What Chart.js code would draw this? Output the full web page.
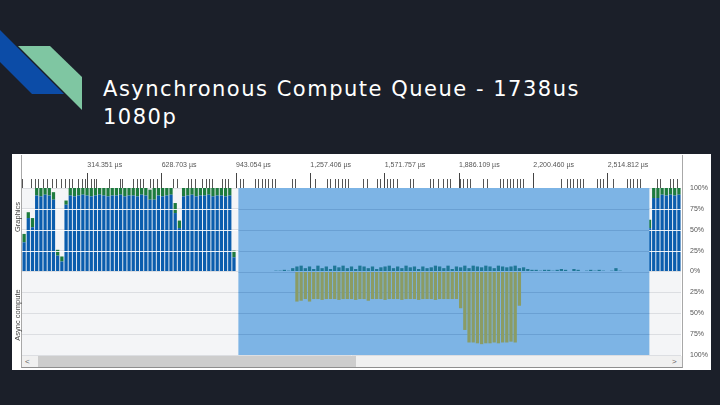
<!DOCTYPE html>
<html>
<head>
<meta charset="utf-8">
<script src="https://cdn.jsdelivr.net/npm/chart.js@4.4.1/dist/chart.umd.min.js"></script>
<style>
html, body { margin: 0; padding: 0; }
body { width: 720px; height: 405px; background: #1b1f29; position: relative; overflow: hidden; font-family: "Liberation Sans", Arial, sans-serif; }
#deco { position: absolute; left: 0; top: 0; }
#title { position: absolute; left: 103px; top: 75px; color: #fff; font-family: "DejaVu Sans", sans-serif; font-weight: normal; font-size: 21px; line-height: 28px; white-space: nowrap; }
#panel { position: absolute; left: 12px; top: 154px; width: 699px; height: 216px; background: #fff; }
#frame { position: absolute; left: 21px; top: 155px; width: 660px; height: 212px; border-left: 1px solid #a8a8a8; border-right: 1px solid #a8a8a8; border-bottom: 1px solid #8e8e8e; }
#chartBox { position: absolute; left: 12px; top: 150px; width: 700px; height: 222px; }
#scroll { position: absolute; left: 22px; top: 356px; width: 660px; height: 11px; background: #f0f0f0; }
#thumb { position: absolute; left: 16px; top: 0; width: 318px; height: 11px; background: #cdcdcd; }
.arrow { position: absolute; top: 0; font-size: 8px; line-height: 11px; color: #666; }
.side { position: absolute; font-size: 7.5px; color: #444; white-space: nowrap; transform: translate(-50%, -50%) rotate(-90deg); }
</style>
</head>
<body>
<svg id="deco" width="100" height="120">
  <polygon points="0,30 64,94 32,94 0,62" fill="#0c4ca7"/>
  <polygon points="18,46 50,46 82,77 82,110" fill="#7fc6a2"/>
</svg>
<div id="title"><span id="titleLine1">Asynchronous Compute Queue - 1738us</span><br>1080p</div>
<div id="panel"></div>
<div id="frame"></div>
<div id="chartBox"><canvas id="queueChart"></canvas></div>
<div id="scroll"><div id="thumb"></div><span class="arrow" style="left:3px">&lt;</span><span class="arrow" style="left:650px">&gt;</span></div>
<div class="side" style="left:17px; top:217px">Graphics</div>
<div class="side" style="left:17px; top:315px">Async compute</div>
<script>
// time bins (µs)
const binStart = 38;
const binWidth = 17.75;
const binCount = 157;
const selection = [953, 2691];

const tickValues = [314.351, 628.703, 943.054, 1257.406, 1571.757, 1886.109, 2200.460, 2514.812];
const tickLabels = ['314.351 µs', '628.703 µs', '943.054 µs', '1,257.406 µs', '1,571.757 µs', '1,886.109 µs', '2,200.460 µs', '2,514.812 µs'];

// event markers on the ruler
const markers = [42, 80, 93, 106, 131, 144, 169, 186, 207, 220, 237, 250, 279, 292, 305, 330, 343, 355, 410, 453, 465,
	508, 525, 537, 550, 580, 592, 609, 677, 694, 740, 753, 770, 800, 817, 829, 842, 884, 897, 910, 961, 973,
	1024, 1037, 1054, 1066, 1079, 1096, 1109, 1180, 1193, 1278, 1329, 1341, 1362, 1375, 1392, 1405, 1417,
	1481, 1498, 1540, 1553, 1582, 1595, 1608, 1625, 1680, 1692, 1764, 1777, 1798, 1819, 1836, 1849,
	1891, 1904, 1921, 1934, 1989, 2005, 2060, 2073, 2090, 2103, 2116, 2132, 2145, 2158,
	2319, 2344, 2357, 2369, 2386, 2399, 2412, 2471, 2484, 2496, 2539, 2598, 2611, 2623, 2640, 2653,
	2725, 2737, 2780, 2792, 2809];

// graphics queue before the selection (bins 0..50), %
const gfxBlueLeft = [35, 64, 53, 91, 90, 92, 91, 86, 19, 12, 80, 91, 90, 91, 92, 91, 90, 91, 92, 91,
	90, 91, 91, 92, 90, 91, 91, 90, 92, 91, 86, 86, 91, 90, 91, 92, 70, 52, 90, 91,
	92, 90, 91, 91, 92, 90, 91, 91, 90, 91, 17];
const gfxGreenLeft = [10, 7, 11, 9, 10, 8, 9, 9, 7, 6, 5, 9, 10, 9, 8, 9, 10, 9, 8, 9,
	10, 9, 9, 8, 10, 9, 9, 10, 8, 9, 12, 14, 9, 10, 9, 8, 12, 9, 10, 9,
	8, 10, 9, 9, 8, 10, 9, 9, 10, 9, 8];
// graphics queue after the selection (bins 149..156)
const gfxRightStart = 149;
const gfxBlueRight = [52, 88, 88, 92, 91, 92, 91, 92];
const gfxGreenRight = [10, 12, 12, 8, 9, 8, 9, 8];

// graphics queue inside the selection (from bin 60)
const gfxSelStart = 60;
const gfxSelected = [1, 1, 2, 1, 4,
	6, 7, 4, 6, 3, 7, 4, 6, 3, 7,
	5, 7, 4, 6, 3, 7, 6, 4, 6, 3,
	5, 6, 7, 4, 6, 4, 7, 5, 6, 3,
	6, 4, 5, 7, 6, 4, 7, 3, 6, 5,
	7, 4, 7, 6, 5, 7, 6, 4, 7, 6,
	5, 6, 7, 4,
	5, 3, 2, 2, 1, 2, 2, 1, 2, 3, 2,
	0,
	3, 2, 0, 1, 2, 1, 2, 1, 0, 1, 4, 1];

// async compute queue (from bin 65), % drawn downward
const asyncStart = 65;
const asyncCompute = [36, 35, 33, 36, 33, 33, 34, 33, 33, 33,
	34, 33, 33, 33, 34, 33, 33, 35, 33, 33,
	33, 34, 33, 33, 33, 34, 33, 33, 33, 34,
	33, 33, 33, 34, 33, 33, 33, 33, 33, 44,
	70, 85, 85, 86, 87, 86, 86, 85, 86, 85,
	85, 84, 85, 41];

let binTimes = [];
for (let i = 0; i < binCount; i++) binTimes.push(binStart + binWidth * (i + 0.5));

function place(start, vals, sign) {
	let arr = new Array(binCount).fill(null);
	vals.forEach((v, k) => { arr[start + k] = v ? v * (sign || 1) : null; });
	return arr;
}

let blueData = place(0, gfxBlueLeft);
let greenData = place(0, gfxGreenLeft);
gfxBlueRight.forEach((v, k) => blueData[gfxRightStart + k] = v);
gfxGreenRight.forEach((v, k) => greenData[gfxRightStart + k] = v);
let selData = place(gfxSelStart, gfxSelected);
let asyncData = place(asyncStart, asyncCompute, -1);

const smallFont = { family: '"Liberation Sans", Arial, sans-serif', size: 7 };

const plotBackground = {
	id: 'plotBackground',
	beforeDraw(chart) {
		const { ctx, chartArea: a } = chart;
		ctx.save();
		ctx.fillStyle = '#f4f5f7';
		ctx.fillRect(a.left, a.top, a.right - a.left, a.bottom - a.top);
		ctx.restore();
	}
};

// white lines over the busy bars, then the selected range under the bars inside it
const selectionRange = {
	id: 'selectionRange',
	beforeDatasetDraw(chart, args) {
		if (chart.data.datasets[args.index].label !== 'Graphics (selection)') return;
		const { ctx, chartArea: a, scales: { x, y } } = chart;
		const levels = y.ticks.map(t => t.value).filter(v => Math.abs(v) < 100);
		ctx.save();
		ctx.lineWidth = 1;
		ctx.strokeStyle = 'rgba(255,255,255,0.9)';
		levels.filter(v => v > 0).forEach(v => {
			const py = Math.round(y.getPixelForValue(v)) + 0.5;
			ctx.beginPath(); ctx.moveTo(a.left, py); ctx.lineTo(a.right, py); ctx.stroke();
		});
		const x0 = x.getPixelForValue(selection[0]);
		const x1 = x.getPixelForValue(selection[1]);
		ctx.fillStyle = '#7db4e5';
		ctx.fillRect(x0, a.top, x1 - x0, a.bottom - a.top);
		ctx.strokeStyle = 'rgba(40,90,150,0.22)';
		levels.forEach(v => {
			const py = Math.round(y.getPixelForValue(v)) + 0.5;
			ctx.beginPath(); ctx.moveTo(x0, py); ctx.lineTo(x1, py); ctx.stroke();
		});
		ctx.restore();
	}
};

const barDefaults = { stack: 'q', xAxisID: 'x', yAxisID: 'y', barPercentage: 0.78, categoryPercentage: 1, borderWidth: 0 };

const ctx = document.getElementById('queueChart').getContext('2d');
const queueChart = new Chart(ctx, {
	type: 'bar',
	data: {
		labels: binTimes,
		datasets: [
			Object.assign({ label: 'Graphics', data: blueData, backgroundColor: '#0b5dad', order: 3 }, barDefaults),
			Object.assign({ label: 'Graphics peak', data: greenData, backgroundColor: '#1d7b3e', order: 4 }, barDefaults),
			Object.assign({ label: 'Graphics (selection)', data: selData, backgroundColor: '#1f7796', order: 2 }, barDefaults),
			Object.assign({ label: 'Async compute', data: asyncData, backgroundColor: '#8a9c65', order: 1 }, barDefaults)
		]
	},
	options: {
		responsive: true,
		maintainAspectRatio: false,
		animation: false,
		layout: { padding: { left: 10, right: 0, top: 0, bottom: 17 } },
		plugins: { legend: { display: false }, tooltip: { enabled: false } },
		scales: {
			x: {
				type: 'linear', position: 'top', weight: 1, offset: false, stacked: true,
				min: binStart, max: binStart + binWidth * binCount,
				afterBuildTicks: s => { s.ticks = tickValues.map(v => ({ value: v })); },
				afterFit: s => { s.height = 38; },
				grid: { drawOnChartArea: false, tickLength: 15, tickColor: '#444', offset: false },
				border: { display: false },
				ticks: { autoSkip: false, maxRotation: 0, align: 'start', padding: 4, color: '#555', font: smallFont,
					callback: (v, i) => tickLabels[i] }
			},
			xMarks: {
				type: 'linear', position: 'top', weight: 0, offset: false,
				min: binStart, max: binStart + binWidth * binCount,
				afterBuildTicks: s => { s.ticks = markers.map(v => ({ value: v })); },
				afterFit: s => { s.height = 0; },
				grid: { drawOnChartArea: false, tickLength: 9, tickColor: '#555', offset: false },
				border: { display: false },
				ticks: { display: false, autoSkip: false }
			},
			y: {
				position: 'right', min: -100, max: 100, stacked: true,
				afterFit: s => { s.width = 31; },
				grid: { color: '#dcdee2', drawTicks: false },
				border: { display: false },
				ticks: { stepSize: 25, padding: 9, color: '#555', font: smallFont,
					callback: v => Math.abs(v) + '%' }
			}
		}
	},
	plugins: [plotBackground, selectionRange]
});

// stretch the title to the width it has on the slide
const line1 = document.getElementById('titleLine1');
const w = line1.getBoundingClientRect().width;
document.getElementById('title').style.letterSpacing = ((477 - w) / 35) + 'px';
</script>
</body>
</html>
